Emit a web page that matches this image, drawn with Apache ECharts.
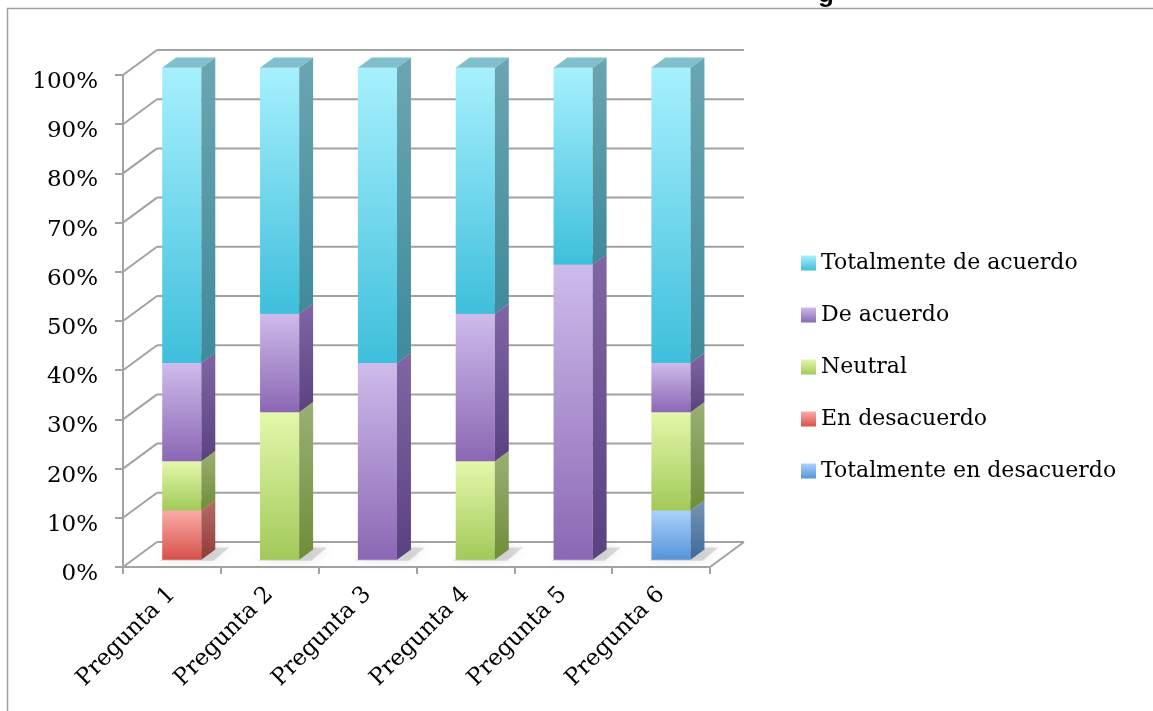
<!DOCTYPE html>
<html>
<head>
<meta charset="utf-8">
<script src="https://cdn.jsdelivr.net/npm/echarts@6/dist/echarts.min.js"></script>
<style>
html,body{margin:0;padding:0;background:#fff;}
#chart{width:1153px;height:711px;}
</style>
</head>
<body>
<div id="chart"></div>
<script>
// ---- data ----
const categories = ['Pregunta 1', 'Pregunta 2', 'Pregunta 3', 'Pregunta 4', 'Pregunta 5', 'Pregunta 6'];
const totalmenteEnDesacuerdo = [0, 0, 0, 0, 0, 10];
const enDesacuerdo = [10, 0, 0, 0, 0, 0];
const neutral = [10, 30, 0, 20, 0, 20];
const deAcuerdo = [20, 20, 40, 30, 60, 10];
const totalmenteDeAcuerdo = [60, 50, 60, 50, 40, 60];
const yTicks = [0, 10, 20, 30, 40, 50, 60, 70, 80, 90, 100];
const seriesNames = ['Totalmente en desacuerdo', 'En desacuerdo', 'Neutral', 'De acuerdo', 'Totalmente de acuerdo'];
const legendOrder = ['Totalmente de acuerdo', 'De acuerdo', 'Neutral', 'En desacuerdo', 'Totalmente en desacuerdo'];

// ---- style ----
const DX = 34, DY = -25;          // depth vector of the 3D box
const FRONT = 0.29, DEPTH = 0.41; // bar front position & depth (fraction of box depth)
const palette = {
  'Totalmente en desacuerdo': {ft: '#A9D1FD', fb: '#5495D7', st: '#7894B4', sb: '#3D6A9C', top: '#8AAFD6'},
  'En desacuerdo':            {ft: '#FBABA7', fb: '#D6514B', st: '#B46C69', sb: '#923A36', top: '#D68A87'},
  'Neutral':                  {ft: '#E3F8AB', fb: '#A2C958', st: '#9AB074', sb: '#6E8D39', top: '#BED48E'},
  'De acuerdo':               {ft: '#CEBBEB', fb: '#8B67B4', st: '#8066A5', sb: '#5A417F', top: '#A690C6'},
  'Totalmente de acuerdo':    {ft: '#A7F0FD', fb: '#3EBFDC', st: '#6BA6B1', sb: '#3F8A9B', top: '#7FC0CB'}
};
const valuesByName = {
  'Totalmente en desacuerdo': totalmenteEnDesacuerdo,
  'En desacuerdo': enDesacuerdo,
  'Neutral': neutral,
  'De acuerdo': deAcuerdo,
  'Totalmente de acuerdo': totalmenteDeAcuerdo
};
const G = (a, b) => new echarts.graphic.LinearGradient(0, 0, 0, 1, [{offset: 0, color: a}, {offset: 1, color: b}]);

const base = categories.map(() => 0);
const barSeries = seriesNames.map((name) => {
  const vals = valuesByName[name];
  const data = vals.map((v, i) => {
    const item = [i, base[i], base[i] + v];
    base[i] += v;
    return item;
  });
  const p = palette[name];
  return {
    type: 'custom',
    name: name,
    z: 5,
    data: data,
    encode: {x: 0, y: [1, 2]},
    itemStyle: {color: G(p.ft, p.fb)},
    renderItem: function (params, api) {
      const i = api.value(0), lo = api.value(1), hi = api.value(2);
      if (hi <= lo) return null;
      const band = api.size([1, 0])[0];
      const w = band * 0.4;
      const c0 = api.coord([i, lo]);
      const c1 = api.coord([i, hi]);
      const fx = DX * FRONT, fy = DY * FRONT;
      const bx = DX * DEPTH, by = DY * DEPTH;
      const x0 = c0[0] - w / 2 + fx, x1 = x0 + w;
      const yb = c0[1] + fy, yt = c1[1] + fy;
      const children = [];
      if (lo === 0) {
        children.push({
          type: 'polygon',
          shape: {points: [[x0 - 2, yb + 1], [x1 + 12, yb + 1], [x1 + bx + 14, yb + by - 2], [x0 + bx, yb + by - 2]]},
          style: {fill: 'rgba(120,120,120,0.25)', shadowBlur: 12, shadowColor: 'rgba(120,120,120,0.7)'}
        });
      }
      children.push({
        type: 'rect',
        shape: {x: x0, y: yt, width: w, height: yb - yt},
        style: {fill: G(p.ft, p.fb)}
      });
      children.push({
        type: 'polygon',
        shape: {points: [[x1, yb], [x1 + bx, yb + by], [x1 + bx, yt + by], [x1, yt]]},
        style: {fill: G(p.st, p.sb)}
      });
      children.push({
        type: 'polygon',
        shape: {points: [[x0, yt], [x1, yt], [x1 + bx, yt + by], [x0 + bx, yt + by]]},
        style: {fill: p.top}
      });
      return {type: 'group', children: children};
    }
  };
});

const frameSeries = {
  type: 'custom',
  name: 'frame',
  z: 1,
  silent: true,
  data: yTicks.map(v => [0, v]),
  encode: {x: 0, y: 1},
  renderItem: function (params, api) {
    const cs = params.coordSys;
    const v = api.value(1);
    const y = api.coord([0, v])[1];
    const xl = cs.x, xr = cs.x + cs.width;
    const st = {stroke: '#A2A2A2', lineWidth: 2};
    const children = [
      {type: 'line', shape: {x1: xl, y1: y, x2: xl + DX, y2: y + DY}, style: st},
      {type: 'line', shape: {x1: xl + DX, y1: y + DY, x2: xr + DX, y2: y + DY}, style: st}
    ];
    if (v === 0) {
      children.push({type: 'line', shape: {x1: xr, y1: y, x2: xr + DX, y2: y + DY}, style: st});
    }
    return {type: 'group', children: children};
  }
};

const chart = echarts.init(document.getElementById('chart'), null, {renderer: 'canvas'});
chart.setOption({
  animation: false,
  backgroundColor: '#ffffff',
  graphic: [
    {type: 'rect', silent: true, z: 0, shape: {x: 7.5, y: 8.5, width: 1200, height: 760}, style: {fill: 'none', stroke: '#A0A0A0', lineWidth: 1.5}},
    {type: 'text', silent: true, z: 0, x: 818, y: -18, style: {text: 'g', font: 'bold 26px "Liberation Sans", Arial, sans-serif', fill: '#000'}}
  ],
  legend: {
    orient: 'vertical',
    left: 796,
    top: 247,
    itemWidth: 15,
    itemHeight: 15,
    itemGap: 30,
    icon: 'rect',
    data: legendOrder,
    textStyle: {fontFamily: '"DejaVu Serif", serif', fontSize: 22, lineHeight: 22, color: '#000'}
  },
  grid: {left: 123, top: 75, width: 587, height: 492, containLabel: false},
  xAxis: {
    type: 'category',
    data: categories,
    boundaryGap: true,
    axisLine: {show: true, lineStyle: {color: '#A2A2A2', width: 2}},
    axisTick: {show: true, length: 7, lineStyle: {color: '#A2A2A2', width: 2}},
    axisLabel: {rotate: 45, margin: 24, color: '#000', fontFamily: '"DejaVu Serif", serif', fontSize: 23, interval: 0},
    splitLine: {show: false}
  },
  yAxis: {
    type: 'value',
    min: 0,
    max: 100,
    interval: 10,
    axisLine: {show: true, lineStyle: {color: '#A2A2A2', width: 2}},
    axisTick: {show: true, length: 8, lineStyle: {color: '#A2A2A2', width: 2}},
    axisLabel: {formatter: '{value}%', margin: 25, color: '#000', fontFamily: '"DejaVu Serif", serif', fontSize: 23, verticalAlign: 'top', lineHeight: 14},
    splitLine: {show: false}
  },
  series: [frameSeries].concat(barSeries)
});
</script>
</body>
</html>
